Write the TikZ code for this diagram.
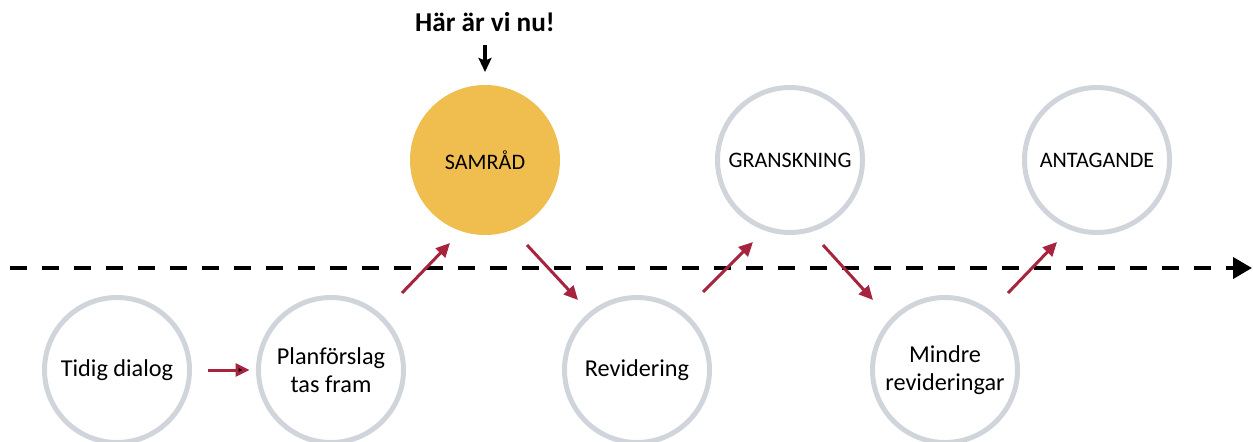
\documentclass[tikz,border=0pt]{standalone}
\usepackage{fontspec}
\setmainfont{Carlito}
\usetikzlibrary{arrows.meta}

\definecolor{ringgray}{RGB}{208,212,219}
\definecolor{nowgold}{RGB}{240,190,78}
\definecolor{flowred}{RGB}{166,36,62}

\begin{document}
\begin{tikzpicture}[>=Stealth,
	phase/.style={circle,draw=ringgray,line width=0.1cm,minimum size=2.9cm,inner sep=0pt,align=center,font=\fontsize{13.8}{16.3}\selectfont},
	milestone/.style={phase,font=\fontsize{12.6}{15}\selectfont},
	current/.style={milestone,fill=nowgold,draw=nowgold},
	flow/.style={->,draw=flowred,line width=0.06cm,>={Triangle[length=0.28cm,width=0.26cm]}},
	timeline/.style={->,line width=0.08cm,dash pattern=on 0.34cm off 0.3cm,>={Triangle[length=0.38cm,width=0.42cm]}}]

\useasboundingbox (0,0) rectangle (25.06,8.82);

\node[phase]     (tidig)   at (2.34,1.42)   {Tidig dialog};
 \node[phase]    (plan)    at (6.62,1.42)   {Planförslag\\tas fram};
	\node[current]   (samrad)  at (9.70,5.62)   {SAMRÅD};
	\node[phase]     (revid)   at (12.74,1.42)  {Revidering};
	\node[milestone] (gransk)  at (15.80,5.62)  {GRANSKNING};
	\node[phase]     (mindre)  at (18.90,1.42)  {Mindre\\revideringar};
	\node[milestone] (antag)   at (21.94,5.62)  {ANTAGANDE};

	\node[inner sep=0pt,font=\fontsize{15.5}{18}\selectfont\bfseries] (nu) at (9.70,8.38) {Här är vi nu!};

	\coordinate (tstart) at (0.2,3.46);
	\coordinate (tend)   at (25.04,3.46);

	% tidslinjen
	\draw[timeline] (tstart) -- (tend);

	\draw[->,line width=0.065cm,>={Stealth[length=0.28cm,width=0.26cm,inset=0.05cm]},shorten <=0.26cm,shorten >=0.26cm] (nu) -- (samrad);

	\path[flow] (tidig) edge[shorten <=0.31cm,shorten >=0.13cm] (plan);
	\draw[flow] ([shift={(1.42,1.54)}]plan.center)    -- ([shift={(-0.70,-1.66)}]samrad.center);
	\draw[flow] ([shift={(0.84,-1.70)}]samrad.center) -- ([shift={(-1.18,1.40)}]revid.center);
	\draw[flow] ([shift={(1.32,1.56)}]revid.center)   -- ([shift={(-0.74,-1.64)}]gransk.center);
	\draw[flow] ([shift={(0.66,-1.70)}]gransk.center) -- ([shift={(-1.44,1.40)}]mindre.center);
	\draw[flow] ([shift={(1.26,1.54)}]mindre.center)  -- ([shift={(-0.80,-1.64)}]antag.center);

\end{tikzpicture}
\end{document}
